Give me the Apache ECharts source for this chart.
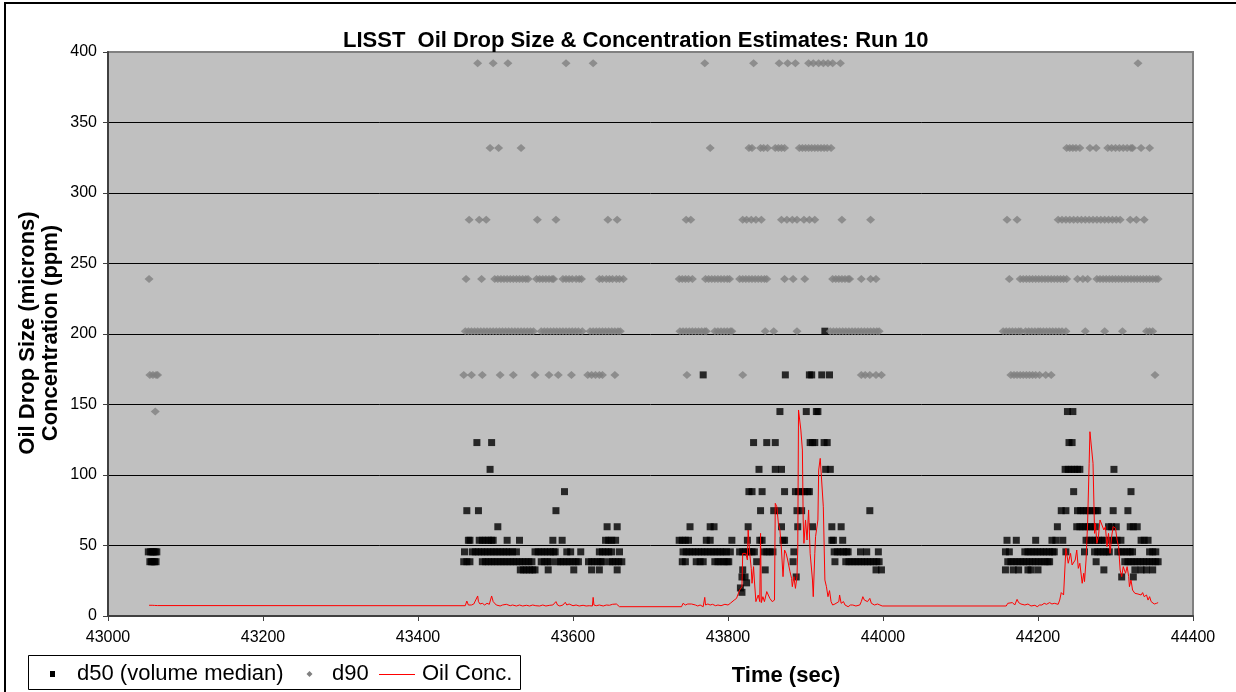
<!DOCTYPE html>
<html>
<head>
<meta charset="utf-8">
<title>LISST Run 10</title>
<script src="https://cdn.jsdelivr.net/npm/echarts@6/dist/echarts.min.js"></script>
<style>
  html, body { margin: 0; padding: 0; background: #fff; }
  #chart { width: 1236px; height: 692px; }
</style>
</head>
<body>
<div id="chart"></div>
<script>
// LISST size bins (microns) in which the d50 was reported, and the times (sec) of each report
const d50Bins = [16.8, 19.9, 23.5, 27.7, 32.7, 38.5, 45.5, 53.7, 63.3, 74.7, 88.2, 104, 123, 145, 171, 202];
const d50Times = [
  [43818],
  [43816],
  [43824],
  [43818, 43822, 43888, 44308, 44323],
  [43532, 43536, 43540, 43544, 43548, 43551, 43568, 43601, 43624, 43634, 43657, 43819, 43848, 43991, 43998,
   44158, 44168, 44175, 44187, 44191, 44200, 44285, 44325, 44333, 44340, 44348],
  [43054, 43056, 43058, 43060, 43062, 43459, 43463, 43467, 43483, 43487, 43491, 43495, 43499, 43503, 43507,
   43511, 43515, 43519, 43523, 43527, 43531, 43535, 43539, 43543, 43547, 43559, 43563, 43567, 43571, 43580,
   43584, 43588, 43592, 43596, 43600, 43604, 43607, 43620, 43624, 43628, 43632, 43636, 43638, 43647, 43651,
   43655, 43659, 43663, 43741, 43745, 43759, 43764, 43768, 43783, 43787, 43791, 43795, 43799, 43801, 43837,
   43884, 43938, 43952, 43956, 43960, 43964, 43968, 43972, 43976, 43980, 43984, 43988, 43992, 43995, 44161,
   44165, 44169, 44173, 44177, 44181, 44185, 44189, 44193, 44197, 44201, 44205, 44209, 44213, 44215, 44275,
   44312, 44316, 44320, 44324, 44328, 44332, 44336, 44340, 44344, 44348, 44352, 44355],
  [43052, 43055, 43057, 43059, 43061, 43063, 43460, 43470, 43474, 43478, 43482, 43486, 43490, 43494, 43498,
   43502, 43506, 43510, 43514, 43518, 43522, 43527, 43551, 43555, 43559, 43563, 43567, 43571, 43575, 43577,
   43592, 43597, 43610, 43634, 43638, 43642, 43646, 43650, 43660, 43742, 43746, 43750, 43754, 43758, 43762,
   43766, 43770, 43774, 43778, 43782, 43786, 43790, 43794, 43798, 43803, 43815, 43819, 43823, 43827, 43831,
   43834, 43846, 43850, 43854, 43858, 43885, 43937, 43941, 43945, 43949, 43953, 43955, 43971, 43979, 43994,
   44158, 44163, 44183, 44187, 44191, 44195, 44199, 44203, 44207, 44211, 44215, 44219, 44221, 44236, 44260,
   44273, 44277, 44281, 44285, 44289, 44292, 44303, 44307, 44311, 44315, 44319, 44322, 44344, 44348, 44352],
  [43465, 43467, 43479, 43483, 43487, 43491, 43495, 43497, 43515, 43531, 43574, 43586, 43642, 43646, 43650,
   43655, 43737, 43741, 43745, 43749, 43772, 43777, 43805, 43825, 43841, 43844, 43871, 43873, 43934, 43936,
   43948, 44160, 44172, 44197, 44218, 44223, 44232, 44262, 44266, 44270, 44274, 44278, 44282, 44286, 44294,
   44298, 44302, 44307, 44333, 44337, 44342],
  [43503, 43644, 43657, 43751, 43777, 43782, 43826, 43869, 43890, 43909, 43934, 43946, 44225, 44250, 44254,
   44258, 44262, 44266, 44270, 44274, 44291, 44295, 44301, 44319, 44323, 44328],
  [43463, 43478, 43578, 43842, 43859, 43865, 43889, 43895, 43983, 44230, 44236, 44251, 44255, 44259, 44263,
   44267, 44271, 44275, 44277, 44297, 44316],
  [43589, 43827, 43831, 43844, 43873, 43887, 43891, 43895, 43899, 43903, 43905, 44246, 44320],
  [43493, 43840, 43861, 43869, 43926, 43932, 44235, 44239, 44243, 44247, 44251, 44254, 44298],
  [43476, 43495, 43833, 43850, 43861, 43906, 43909, 43912, 43924, 43928, 44240, 44244],
  [43867, 43901, 43914, 43916, 44238, 44245],
  [43768, 43874, 43905, 43908, 43921, 43931],
  [43925]
];

// size bins (microns) in which the d90 was reported, and the times (sec) of each report
const d90Bins = [145, 171, 202, 239, 281, 332, 392];
const d90Times = [
  [43061],
  [43054, 43058, 43062, 43064, 43459, 43469, 43483, 43506, 43523, 43551, 43569, 43581, 43598, 43619, 43624,
   43629, 43634, 43638, 43654, 43747, 43819, 43972, 43977, 43983, 43991, 43998, 44165, 44169, 44173, 44177,
   44181, 44185, 44189, 44193, 44197, 44202, 44210, 44217, 44351],
  [43461, 43465, 43469, 43473, 43477, 43481, 43485, 43489, 43493, 43497, 43501, 43505, 43509, 43513, 43517,
   43521, 43525, 43529, 43533, 43537, 43541, 43545, 43549, 43559, 43563, 43567, 43571, 43575, 43579, 43583,
   43587, 43591, 43595, 43599, 43603, 43607, 43612, 43622, 43626, 43630, 43634, 43638, 43642, 43646, 43650,
   43654, 43658, 43661, 43738, 43742, 43746, 43750, 43754, 43758, 43762, 43766, 43770, 43772, 43783, 43787,
   43791, 43795, 43799, 43803, 43805, 43848, 43859, 43889, 43932, 43936, 43940, 43944, 43948, 43952, 43956,
   43960, 43964, 43968, 43972, 43976, 43980, 43984, 43988, 43992, 43995, 44155, 44159, 44163, 44167, 44171,
   44175, 44178, 44184, 44188, 44192, 44196, 44200, 44203, 44207, 44211, 44215, 44219, 44223, 44227, 44231,
   44236, 44261, 44286, 44309, 44340, 44344, 44348],
  [43053, 43462, 43482, 43499, 43503, 43507, 43511, 43515, 43519, 43523, 43527, 43531, 43535, 43539, 43542,
   43553, 43557, 43561, 43565, 43569, 43573, 43575, 43587, 43591, 43595, 43599, 43604, 43608, 43611, 43634,
   43638, 43643, 43647, 43651, 43656, 43660, 43665, 43737, 43741, 43745, 43749, 43754, 43771, 43775, 43779,
   43783, 43787, 43791, 43795, 43799, 43802, 43815, 43819, 43823, 43827, 43831, 43835, 43839, 43843, 43847,
   43850, 43873, 43884, 43899, 43935, 43939, 43943, 43947, 43951, 43955, 43957, 43972, 43984, 43991, 44163,
   44177, 44181, 44185, 44189, 44193, 44197, 44201, 44205, 44209, 44213, 44217, 44221, 44225, 44229, 44233,
   44237, 44251, 44258, 44264, 44276, 44280, 44284, 44288, 44292, 44296, 44300, 44304, 44308, 44312, 44316,
   44320, 44324, 44328, 44332, 44336, 44340, 44344, 44348, 44352, 44355],
  [43466, 43479, 43488, 43554, 43578, 43645, 43657, 43746, 43752, 43819, 43824, 43830, 43836, 43843, 43869,
   43876, 43883, 43889, 43898, 43905, 43912, 43947, 43984, 44160, 44173, 44226, 44231, 44236, 44241, 44246,
   44251, 44256, 44261, 44266, 44271, 44276, 44281, 44286, 44291, 44296, 44301, 44306, 44319, 44327, 44337],
  [43493, 43504, 43533, 43777, 43827, 43831, 43842, 43846, 43851, 43861, 43865, 43869, 43873, 43892, 43896,
   43900, 43904, 43908, 43912, 43916, 43920, 43924, 43928, 43933, 44237, 44241, 44245, 44249, 44254, 44267,
   44275, 44290, 44295, 44300, 44305, 44310, 44315, 44320, 44322, 44333, 44344],
  [43477, 43497, 43516, 43591, 43626, 43770, 43833, 43866, 43877, 43887, 43904, 43910, 43917, 43923, 43929,
   43935, 43945, 44329]
];

// oil concentration (ppm) against time (sec)
const concTime = [
  43053, 43057, 43060, 43062, 43064,
  43461, 43463, 43465, 43467, 43469, 43472, 43474, 43477, 43478, 43480, 43483, 43486, 43489, 43492, 43495,
  43497, 43499, 43501, 43503, 43506, 43509, 43514, 43516, 43519, 43522, 43527, 43531, 43535, 43540, 43544,
  43548, 43552, 43557, 43561, 43565, 43570, 43574, 43578, 43580, 43583, 43587, 43590, 43592, 43595, 43600,
  43604, 43608, 43613, 43617, 43621, 43625, 43626, 43627, 43630, 43634, 43639, 43643, 43647, 43651, 43656,
  43658, 43660,
  43740, 43742, 43745, 43748, 43750, 43753, 43755, 43758, 43761, 43764, 43768, 43770, 43771, 43774, 43777,
  43780, 43784, 43787, 43791, 43796, 43800, 43803, 43805, 43808, 43811, 43815, 43818, 43819, 43823, 43825,
  43826, 43828, 43830, 43831, 43833, 43834, 43836, 43838, 43839, 43841, 43842, 43843, 43845, 43847, 43850,
  43854, 43857, 43860, 43861, 43863, 43865, 43867, 43869, 43871, 43873, 43875, 43877, 43880, 43882, 43883,
  43885, 43887, 43889, 43890, 43891, 43894, 43896, 43897, 43898, 43900, 43902, 43904, 43906, 43909, 43910,
  43912, 43913, 43916, 43917, 43919, 43921, 43923, 43925, 43927, 43929, 43931, 43933, 43935, 43938, 43940,
  43943, 43944, 43946, 43949, 43951, 43955, 43958, 43961, 43965, 43970, 43972, 43974, 43976, 43978, 43980,
  43983, 43985, 43987, 43989, 43991, 43993, 43996, 43999,
  44159, 44161, 44163, 44167, 44170, 44173, 44175, 44178, 44183, 44187, 44191, 44196, 44199, 44202, 44205,
  44208, 44211, 44215, 44218, 44221, 44226, 44228, 44230, 44233, 44236, 44237, 44239, 44242, 44244, 44246,
  44248, 44250, 44252, 44254, 44257, 44259, 44260, 44262, 44264, 44266, 44267, 44269, 44271, 44273, 44274,
  44276, 44278, 44280, 44282, 44285, 44287, 44289, 44291, 44293, 44295, 44297, 44300, 44302, 44304, 44306,
  44308, 44310, 44313, 44315, 44317, 44318, 44320, 44322, 44325, 44327, 44329, 44331, 44333, 44335, 44337,
  44340, 44342, 44344, 44346, 44348, 44350, 44353, 44355
];
const concPpm = [
  7.6, 7.6, 7.5, 6.4, 7.4,
  7.3, 10.6, 7.8, 9.0, 7.8, 8.5, 9.0, 14.2, 10.2, 8.5, 9.0, 7.8, 9.0, 8.3, 14.2,
  10.2, 9.0, 7.8, 9.0, 7.1, 7.8, 8.3, 9.0, 7.3, 7.8, 7.1, 7.8, 7.1, 7.6, 7.1,
  7.8, 7.3, 7.1, 7.8, 7.1, 7.6, 7.8, 10.2, 7.8, 7.1, 7.8, 9.7, 7.8, 8.5, 7.3,
  7.8, 7.1, 7.6, 7.1, 7.3, 7.1, 13.2, 7.8, 7.3, 7.8, 7.1, 7.8, 7.6, 8.3, 8.5,
  9.7, 6.6,
  6.6, 9.0, 7.8, 8.5, 9.7, 8.5, 7.8, 7.8, 7.1, 7.8, 6.6, 13.2, 7.8, 8.5, 7.8,
  8.3, 7.3, 7.8, 7.3, 8.3, 7.8, 9.0, 8.5, 11.3, 12.5, 18.4, 20.8, 44.4, 44.4, 39.7,
  61.0, 44.4, 33.8, 23.2, 35.0, 25.5, 10.2, 9.5, 14.9, 10.2, 58.6, 9.5, 13.7, 10.2, 17.3,
  12.5, 10.2, 11.3, 79.9, 77.5, 65.7, 61.0, 46.8, 27.9, 46.8, 44.4, 39.7, 31.4, 26.7, 20.8,
  27.9, 19.6, 27.9, 46.8, 146.1, 131.9, 117.7, 68.1, 51.5, 68.1, 53.9, 75.2, 44.4, 25.5, 13.7,
  44.4, 56.3, 68.1, 103.5, 111.8, 110.6, 77.5, 25.5, 20.8, 13.7, 18.0, 10.2, 7.8, 8.5, 7.8,
  10.2, 14.9, 9.0, 10.2, 7.8, 6.6, 7.8, 7.8, 7.1, 7.8, 10.2, 13.7, 11.3, 12.5, 10.2,
  12.5, 9.0, 10.2, 7.8, 9.0, 8.5, 7.8, 7.1,
  7.1, 9.0, 7.8, 9.5, 7.8, 11.8, 9.5, 8.5, 7.8, 8.5, 7.1, 7.6, 6.6, 7.8, 7.8,
  9.0, 8.3, 9.5, 8.5, 9.0, 8.3, 11.3, 16.6, 14.9, 48.0, 46.8, 37.4, 44.4, 36.2, 35.0,
  39.7, 46.8, 33.8, 37.4, 23.2, 30.3, 24.4, 39.7, 65.7, 108.3, 130.7, 130.7, 108.3, 58.6, 65.7,
  51.5, 56.3, 68.1, 69.3, 61.0, 63.4, 49.2, 58.6, 44.4, 56.3, 63.4, 62.2, 53.9, 49.2, 32.6,
  27.9, 35.0, 30.3, 35.0, 27.9, 20.8, 25.5, 18.4, 16.1, 17.3, 15.6, 16.1, 14.9, 16.6, 13.7,
  14.9, 11.3, 13.7, 10.2, 11.3, 8.5, 9.0, 9.5
];

const FONT = '"Liberation Sans", Arial, Helvetica, sans-serif';

function binPoints(bins, times) {
  const pts = [];
  bins.forEach((size, i) => times[i].forEach(t => pts.push([t, size])));
  return pts;
}

const chart = echarts.init(document.getElementById('chart'), null, { renderer: 'canvas' });

chart.setOption({
  animation: false,
  backgroundColor: '#ffffff',
  title: {
    text: 'LISST  Oil Drop Size & Concentration Estimates: Run 10',
    left: 338,
    top: 25,
    textStyle: { fontFamily: FONT, fontSize: 22, fontWeight: 'bold', color: '#000' }
  },
  grid: {
    left: 108, top: 52, width: 1085, height: 564,
    show: true, backgroundColor: '#c0c0c0', borderColor: '#808080', borderWidth: 2
  },
  xAxis: {
    type: 'value', min: 43000, max: 44400, interval: 200,
    axisLine: { show: true, onZero: false, lineStyle: { color: '#404040', width: 2 } },
    axisTick: { show: true, length: 5, lineStyle: { color: '#404040', width: 1 } },
    axisLabel: { color: '#000', fontFamily: FONT, fontSize: 16, margin: 14, formatter: v => String(v) },
    splitLine: { show: false }
  },
  yAxis: {
    type: 'value', min: 0, max: 400, interval: 50,
    axisLine: { show: true, lineStyle: { color: '#404040', width: 2 } },
    axisTick: { show: true, length: 5, lineStyle: { color: '#404040', width: 1 } },
    axisLabel: { color: '#000', fontFamily: FONT, fontSize: 16, margin: 11 },
    splitLine: { show: true, showMinLine: false, showMaxLine: false, lineStyle: { color: '#000', width: 1 } }
  },
  series: [
    {
      name: 'd50 (volume median)', type: 'scatter', symbol: 'rect', symbolSize: 7,
      itemStyle: { color: '#000' }, data: binPoints(d50Bins, d50Times)
    },
    {
      name: 'd90', type: 'scatter', symbol: 'diamond', symbolSize: [9, 8],
      itemStyle: { color: '#808080' }, data: binPoints(d90Bins, d90Times)
    },
    {
      name: 'Oil Conc.', type: 'line', showSymbol: false, symbol: 'none',
      lineStyle: { color: '#ff0000', width: 1 },
      data: concTime.map((t, i) => [t, concPpm[i]])
    }
  ],
  graphic: [
    { type: 'rect', silent: true, z: 100,
      shape: { x: 5, y: 3, width: 1240, height: 700 },
      style: { fill: 'none', stroke: '#000', lineWidth: 2 } },
    { type: 'text', silent: true, x: 39, y: 333, rotation: Math.PI / 2,
      style: { text: 'Oil Drop Size (microns)\nConcentration (ppm)', font: 'bold 22px ' + FONT,
               fill: '#000', align: 'center', verticalAlign: 'middle',
               textAlign: 'center', textVerticalAlign: 'middle', lineHeight: 23 } },
    { type: 'text', silent: true, x: 786, y: 676,
      style: { text: 'Time (sec)', font: 'bold 22px ' + FONT, fill: '#000',
               align: 'center', verticalAlign: 'middle', textAlign: 'center', textVerticalAlign: 'middle' } },
    // legend box
    { type: 'rect', silent: true, z: 50,
      shape: { x: 28.5, y: 655.5, width: 492, height: 34 },
      style: { fill: '#fff', stroke: '#000', lineWidth: 1 } },
    { type: 'rect', silent: true, z: 51,
      shape: { x: 50, y: 671, width: 5, height: 6 }, style: { fill: '#000' } },
    { type: 'text', silent: true, z: 51, x: 77, y: 674,
      style: { text: 'd50 (volume median)', font: '22px ' + FONT, fill: '#000',
               align: 'left', verticalAlign: 'middle', textAlign: 'left', textVerticalAlign: 'middle' } },
    { type: 'polygon', silent: true, z: 51,
      shape: { points: [[309.5, 671], [312.5, 674], [309.5, 677], [306.5, 674]] },
      style: { fill: '#808080' } },
    { type: 'text', silent: true, z: 51, x: 332, y: 674,
      style: { text: 'd90', font: '22px ' + FONT, fill: '#000',
               align: 'left', verticalAlign: 'middle', textAlign: 'left', textVerticalAlign: 'middle' } },
    { type: 'line', silent: true, z: 51,
      shape: { x1: 379, y1: 674.5, x2: 415, y2: 674.5 }, style: { stroke: '#ff0000', lineWidth: 1 } },
    { type: 'text', silent: true, z: 51, x: 422, y: 674,
      style: { text: 'Oil Conc.', font: '22px ' + FONT, fill: '#000',
               align: 'left', verticalAlign: 'middle', textAlign: 'left', textVerticalAlign: 'middle' } }
  ]
});
</script>
</body>
</html>
